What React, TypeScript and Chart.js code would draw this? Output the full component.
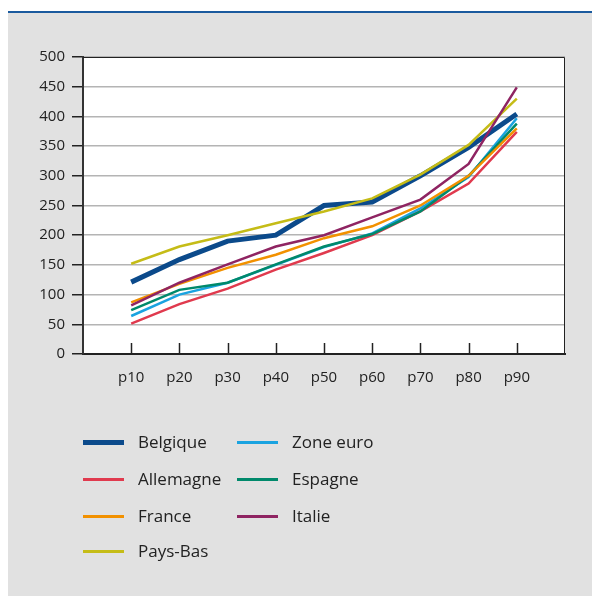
import React, { useEffect, useRef } from "react";
import { Chart, registerables } from "chart.js";

Chart.register(...registerables);

const categories = ["p10", "p20", "p30", "p40", "p50", "p60", "p70", "p80", "p90"];
const yTicks = [0, 50, 100, 150, 200, 250, 300, 350, 400, 450, 500];

const belgique = [121, 159, 190, 200, 250, 256, 300, 348, 404];
const zoneEuro = [64, 100, 120, 150, 180, 203, 245, 298, 397];
const allemagne = [51, 84, 110, 142, 170, 200, 240, 287, 374];
const espagne = [74, 108, 120, 151, 181, 202, 240, 300, 388];
const france = [87, 118, 145, 167, 195, 215, 250, 300, 380];
const italie = [82, 120, 151, 181, 200, 230, 260, 320, 449];
const paysBas = [152, 181, 200, 220, 240, 262, 302, 352, 430];

const seriesNames = ["Belgique", "Zone euro", "Allemagne", "Espagne", "France", "Italie", "Pays-Bas"];
const seriesColors = ["#0b4a8b", "#1aa3e0", "#e03a4e", "#00896b", "#f29100", "#8f2462", "#c5bc17"];
const seriesValues = [belgique, zoneEuro, allemagne, espagne, france, italie, paysBas];
const seriesWidths = [5, 2.5, 2.5, 2.5, 2.5, 2.5, 2.5];
const seriesOrder = [6, 5, 4, 3, 2, 0, 1];

const FONT = "'Open Sans', 'Noto Sans', sans-serif";

const areaPlugin = {
  id: "areaPlugin",
  beforeDraw(chart: any) {
    const { ctx, chartArea } = chart;
    ctx.save();
    ctx.fillStyle = "#ffffff";
    ctx.fillRect(chartArea.left, chartArea.top, chartArea.right - chartArea.left, chartArea.bottom - chartArea.top);
    ctx.restore();
  },
  beforeDatasetsDraw(chart: any) {
    const { ctx, chartArea, scales } = chart;
    const x = scales.x;
    ctx.save();
    ctx.strokeStyle = "#222";
    ctx.lineWidth = 1.5;
    const labels = chart.data.labels;
    for (let i = 0; i < labels.length; i++) {
      if (!labels[i]) continue;
      const px = Math.round(x.getPixelForValue(i)) + 0.5;
      ctx.beginPath();
      ctx.moveTo(px, chartArea.bottom);
      ctx.lineTo(px, chartArea.bottom - 11);
      ctx.stroke();
    }
    ctx.strokeStyle = "#222";
    ctx.lineWidth = 1;
    ctx.beginPath();
    ctx.moveTo(chartArea.left, chartArea.top + 0.5);
    ctx.lineTo(chartArea.right - 0.5, chartArea.top + 0.5);
    ctx.lineTo(chartArea.right - 0.5, chartArea.bottom);
    ctx.stroke();
    ctx.restore();
  },
};

function ChartCanvas() {
  const ref = useRef<HTMLCanvasElement | null>(null);
  useEffect(() => {
    if (!ref.current) return;
    const labels = ["", ...categories, ""];
    const chart = new Chart(ref.current, {
      type: "line",
      data: {
        labels,
        datasets: seriesNames.map((name, i) => ({
          label: name,
          data: [null, ...seriesValues[i], null],
          borderColor: seriesColors[i],
          backgroundColor: seriesColors[i],
          borderWidth: seriesWidths[i],
          pointRadius: 0,
          tension: 0,
          fill: false,
          order: seriesOrder[i],
        })),
      },
      options: {
        responsive: false,
        animation: false,
        layout: { padding: { top: 44, right: 27, bottom: 202, left: 0 } },
        plugins: { legend: { display: false }, tooltip: { enabled: false } },
        scales: {
          x: {
            type: "category",
            offset: false,
            afterFit: (s: any) => {
              s.height = 40;
            },
            grid: { display: true, drawOnChartArea: false, drawTicks: false },
            border: { display: true, color: "#222", width: 2 },
            ticks: {
              color: "#222",
              font: { family: FONT, size: 15 },
              padding: 15,
              autoSkip: false,
              maxRotation: 0,
            },
          },
          y: {
            min: 0,
            max: 500,
            afterFit: (s: any) => {
              s.width = 75;
            },
            afterBuildTicks: (s: any) => {
              s.ticks = yTicks.map((v) => ({ value: v }));
            },
            grid: {
              color: "#b4b4b4",
              lineWidth: 1.5,
              drawTicks: true,
              tickLength: 11,
              tickColor: "#222",
              tickWidth: 1.5,
            },
            border: { display: true, color: "#333", width: 2 },
            ticks: {
              color: "#222",
              font: { family: FONT, size: 15 },
              padding: 7,
            },
          },
        },
      },
      plugins: [areaPlugin],
    } as any);
    return () => chart.destroy();
  }, []);
  return <canvas ref={ref} width={584} height={583} style={{ display: "block", width: 584, height: 583 }} />;
}

const legendRows = [
  [0, 1],
  [2, 3],
  [4, 5],
  [6],
];
const rowTops = [434, 471, 508, 543];
const colX = [75, 229];

export default function App() {
  return (
    <div style={{ position: "fixed", left: 8, top: 8, width: 584, height: 588, background: "#fff", fontFamily: FONT }}>
      <div style={{ position: "absolute", left: 0, top: 3, width: 584, height: 2, background: "#1a5a9e" }} />
      <div style={{ position: "absolute", left: 0, top: 5, width: 584, height: 583, background: "#e1e1e1" }}>
        <ChartCanvas />
      </div>
      {legendRows.map((row, r) =>
        row.map((si, c) => (
          <div
            key={si}
            style={{
              position: "absolute",
              left: colX[c],
              top: rowTops[r] - 12,
              height: 24,
              display: "flex",
              alignItems: "center",
            }}
          >
            <div
              style={{
                width: 41,
                height: seriesWidths[si] > 3 ? 5 : 3,
                background: seriesColors[si],
                marginRight: 14,
              }}
            />
            <span style={{ fontSize: 17, color: "#222", lineHeight: "24px", whiteSpace: "nowrap" }}>{seriesNames[si]}</span>
          </div>
        ))
      )}
    </div>
  );
}
